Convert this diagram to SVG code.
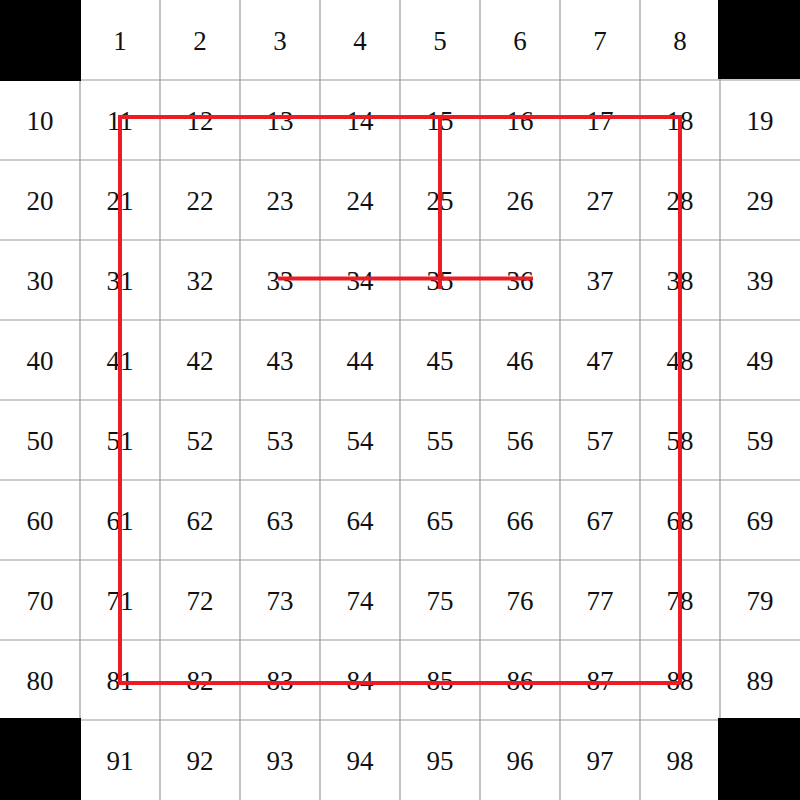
<svg xmlns="http://www.w3.org/2000/svg" width="800" height="800" viewBox="0 0 800 800">
<style>
.g{stroke:#999;stroke-width:1.2;fill:none}
.n text{font-family:"Liberation Serif","DejaVu Serif",serif;font-size:27px;text-anchor:middle;fill:#111}
.r{stroke:#ED1C24;stroke-width:4;fill:none;stroke-linecap:butt}
</style>
<rect width="800" height="800" fill="#fff"/>
<g id="grid" class="g">
<path d="M80 0V800M160 0V800M240 0V800M320 0V800M400 0V800M480 0V800M560 0V800M640 0V800M720 0V800M0 80H800M0 160H800M0 240H800M0 320H800M0 400H800M0 480H800M0 560H800M0 640H800M0 720H800"/>
</g>
<g id="corners" fill="#000">
<rect x="0" y="0" width="81" height="81"/>
<rect x="718" y="0" width="82" height="79"/>
<rect x="0" y="718" width="81" height="82"/>
<rect x="718" y="718" width="82" height="82"/>
</g>
<g id="numbers" class="n">
<text x="120" y="50">1</text><text x="200" y="50">2</text><text x="280" y="50">3</text><text x="360" y="50">4</text><text x="440" y="50">5</text><text x="520" y="50">6</text><text x="600" y="50">7</text><text x="680" y="50">8</text>
<text x="40" y="130">10</text><text x="120" y="130">11</text><text x="200" y="130">12</text><text x="280" y="130">13</text><text x="360" y="130">14</text><text x="440" y="130">15</text><text x="520" y="130">16</text><text x="600" y="130">17</text><text x="680" y="130">18</text><text x="760" y="130">19</text>
<text x="40" y="210">20</text><text x="120" y="210">21</text><text x="200" y="210">22</text><text x="280" y="210">23</text><text x="360" y="210">24</text><text x="440" y="210">25</text><text x="520" y="210">26</text><text x="600" y="210">27</text><text x="680" y="210">28</text><text x="760" y="210">29</text>
<text x="40" y="290">30</text><text x="120" y="290">31</text><text x="200" y="290">32</text><text x="280" y="290">33</text><text x="360" y="290">34</text><text x="440" y="290">35</text><text x="520" y="290">36</text><text x="600" y="290">37</text><text x="680" y="290">38</text><text x="760" y="290">39</text>
<text x="40" y="370">40</text><text x="120" y="370">41</text><text x="200" y="370">42</text><text x="280" y="370">43</text><text x="360" y="370">44</text><text x="440" y="370">45</text><text x="520" y="370">46</text><text x="600" y="370">47</text><text x="680" y="370">48</text><text x="760" y="370">49</text>
<text x="40" y="450">50</text><text x="120" y="450">51</text><text x="200" y="450">52</text><text x="280" y="450">53</text><text x="360" y="450">54</text><text x="440" y="450">55</text><text x="520" y="450">56</text><text x="600" y="450">57</text><text x="680" y="450">58</text><text x="760" y="450">59</text>
<text x="40" y="530">60</text><text x="120" y="530">61</text><text x="200" y="530">62</text><text x="280" y="530">63</text><text x="360" y="530">64</text><text x="440" y="530">65</text><text x="520" y="530">66</text><text x="600" y="530">67</text><text x="680" y="530">68</text><text x="760" y="530">69</text>
<text x="40" y="610">70</text><text x="120" y="610">71</text><text x="200" y="610">72</text><text x="280" y="610">73</text><text x="360" y="610">74</text><text x="440" y="610">75</text><text x="520" y="610">76</text><text x="600" y="610">77</text><text x="680" y="610">78</text><text x="760" y="610">79</text>
<text x="40" y="690">80</text><text x="120" y="690">81</text><text x="200" y="690">82</text><text x="280" y="690">83</text><text x="360" y="690">84</text><text x="440" y="690">85</text><text x="520" y="690">86</text><text x="600" y="690">87</text><text x="680" y="690">88</text><text x="760" y="690">89</text>
<text x="120" y="770">91</text><text x="200" y="770">92</text><text x="280" y="770">93</text><text x="360" y="770">94</text><text x="440" y="770">95</text><text x="520" y="770">96</text><text x="600" y="770">97</text><text x="680" y="770">98</text>
</g>
<g id="connectors" class="r">
<path d="M120 117H680V683H120Z" stroke-linejoin="miter"/>
<path d="M440 115V289"/>
<path d="M278 278.5H533"/>
</g>
</svg>
